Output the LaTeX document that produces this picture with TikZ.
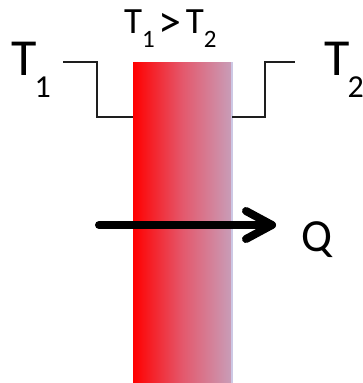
\documentclass[tikz,border=0pt]{standalone}
\usepackage{fontspec}
\setmainfont{Carlito}
\definecolor{wallright}{RGB}{200,158,185}
\definecolor{wallmid}{RGB}{228,88,108}
\definecolor{walledge}{RGB}{205,200,228}
\definecolor{stepgrey}{RGB}{30,30,30}
\begin{document}
\begin{tikzpicture}[x=1pt,y=-1pt,
  steplines/.style={line width=2pt, draw=stepgrey, line join=miter},
  bigT/.style={anchor=base west, inner sep=0pt, font=\fontsize{52}{52}\selectfont},
  smallT/.style={anchor=base west, inner sep=0pt, font=\fontsize{37}{37}\selectfont},
  heat/.style={line width=8pt, line cap=round, line join=round, draw=black}]
\useasboundingbox (0,0) rectangle (363,383);
% wall
\shade[left color=red, right color=wallright, middle color=wallmid] (133,62) rectangle (232,383);
\fill[walledge] (230.5,62) rectangle (232.5,383);
\coordinate (wallTL) at (133,117);
\coordinate (wallTR) at (232,117);
% step profiles
\coordinate (l0) at (63,62);
\coordinate (l1) at (97,62);
\coordinate (l2) at (97,117);
\coordinate (r1) at (265,117);
\coordinate (r2) at (265,62);
\coordinate (r3) at (295,62);
\draw[steplines] (l0) -- (l1) -- (l2) -- (wallTL);
\draw[steplines] (wallTR) -- (r1) -- (r2) -- (r3);
% labels
\node[bigT] (t1) at (11,75) {T\kern-2pt\raisebox{-22pt}{\fontsize{32}{32}\selectfont 1}};
\node[bigT] (t2) at (324,75) {T\kern-2pt\raisebox{-22pt}{\fontsize{32}{32}\selectfont 2}};
\node[smallT] (cmp) at (124,33) {T\raisebox{-14pt}{\fontsize{25}{25}\selectfont 1}\hspace{4pt}\raisebox{-4pt}{\fontsize{46}{46}\selectfont >}\hspace{4pt}T\raisebox{-14pt}{\fontsize{25}{25}\selectfont 2}};
\node[anchor=base west, inner sep=0pt, font=\fontsize{46}{46}\selectfont] (q) at (301,251) {Q};
% heat flow arrow
\coordinate (a0) at (99,225);
\coordinate (a1) at (272,225);
\coordinate (b1) at (246,211);
\coordinate (b2) at (246,239);
\draw[heat] (a0) -- (a1);
\draw[heat] (b1) -- (a1) -- (b2);
\end{tikzpicture}
\end{document}
